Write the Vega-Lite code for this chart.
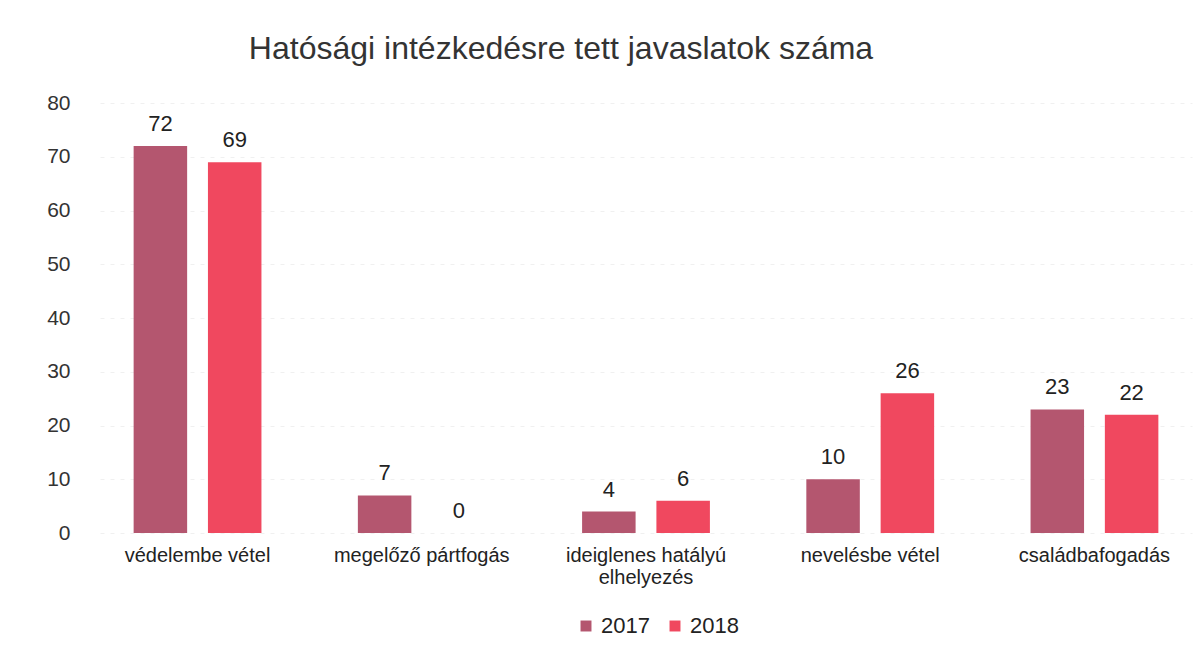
{
  "$schema": "https://vega.github.io/schema/vega-lite/v6.json",
  "width": 1092,
  "height": 430,
  "autosize": {"type": "none"},
  "padding": {"left": 100, "right": 4, "top": 103, "bottom": 135},
  "background": "white",
  "config": {"view": {"stroke": null}},
  "title": {
    "text": "Hatósági intézkedésre tett javaslatok száma",
    "fontSize": 32,
    "font": "Liberation Sans",
    "fontWeight": "normal",
    "color": "#333333",
    "offset": 26,
    "dx": -85
  },
  "data": {
    "values": [
      {"kategoria": "védelembe vétel", "ev": "2017", "ertek": 72},
      {"kategoria": "védelembe vétel", "ev": "2018", "ertek": 69},
      {"kategoria": "megelőző pártfogás", "ev": "2017", "ertek": 7},
      {"kategoria": "megelőző pártfogás", "ev": "2018", "ertek": 0},
      {"kategoria": "ideiglenes hatályú elhelyezés", "ev": "2017", "ertek": 4},
      {"kategoria": "ideiglenes hatályú elhelyezés", "ev": "2018", "ertek": 6},
      {"kategoria": "nevelésbe vétel", "ev": "2017", "ertek": 10},
      {"kategoria": "nevelésbe vétel", "ev": "2018", "ertek": 26},
      {"kategoria": "családbafogadás", "ev": "2017", "ertek": 23},
      {"kategoria": "családbafogadás", "ev": "2018", "ertek": 22}
    ]
  },
  "encoding": {
    "x": {
      "field": "kategoria",
      "type": "nominal",
      "sort": null,
      "scale": {"paddingInner": 0.43, "paddingOuter": 0.15},
      "axis": {
        "title": null,
        "labelAngle": 0,
        "labelFontSize": 20,
        "labelFont": "Liberation Sans",
        "labelColor": "#222222",
        "labelPadding": 12,
        "domain": false,
        "ticks": false,
        "labelExpr": "datum.label == 'ideiglenes hatályú elhelyezés' ? ['ideiglenes hatályú', 'elhelyezés'] : datum.label"
      }
    },
    "xOffset": {"field": "ev", "type": "nominal", "scale": {"paddingInner": 0.28}},
    "y": {
      "field": "ertek",
      "type": "quantitative",
      "scale": {"domain": [0, 80]},
      "axis": {
        "title": null,
        "values": [0, 10, 20, 30, 40, 50, 60, 70, 80],
        "labelFontSize": 21,
        "labelFont": "Liberation Sans",
        "labelColor": "#333333",
        "labelPadding": 30,
        "domain": false,
        "ticks": false,
        "grid": true,
        "gridColor": "#f0f0f0",
        "gridDash": [4, 6]
      }
    }
  },
  "layer": [
    {
      "mark": {"type": "bar"},
      "encoding": {
        "color": {
          "field": "ev",
          "type": "nominal",
          "scale": {"domain": ["2017", "2018"], "range": ["#b4566f", "#f0485f"]},
          "legend": {
            "orient": "none",
            "direction": "horizontal",
            "legendX": 475,
            "legendY": 512,
            "title": null,
            "symbolType": "square",
            "symbolSize": 120,
            "labelFontSize": 22,
            "labelFont": "Liberation Sans",
            "labelColor": "#222222",
            "columnPadding": 14
          }
        }
      }
    },
    {
      "mark": {"type": "text", "dy": -22, "fontSize": 22, "font": "Liberation Sans"},
      "encoding": {
        "text": {"field": "ertek", "type": "quantitative"},
        "color": {"value": "#222222"}
      }
    }
  ]
}
